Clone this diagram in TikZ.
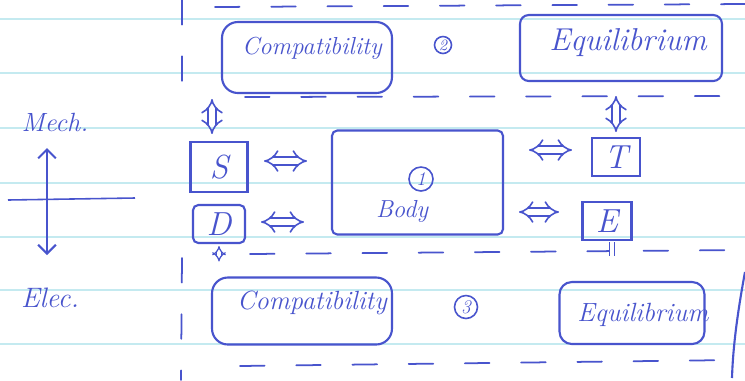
\documentclass[tikz,border=0pt]{standalone}
\usetikzlibrary{arrows.meta}
\definecolor{ink}{RGB}{72,84,205}
\definecolor{ruling}{RGB}{196,234,240}
\tikzset{
  pen/.style={draw=ink, line width=1.2pt},
  blockbox/.style={pen, rounded corners=9pt, inner sep=0pt},
  letterbox/.style={pen, inner sep=0pt, text=ink, font=\fontsize{19}{22}\selectfont\itshape},
  handtext/.style={text=ink, font=\fontsize{15}{18}\selectfont\itshape, inner sep=0pt},
  numbered/.style={circle, pen, line width=0.9pt, inner sep=0pt, text=ink, font=\fontsize{9}{10}\selectfont\itshape},
  dblarrow/.style={draw=ink, double=white, double distance=3.4pt, line width=0.9pt, arrows={Implies-Implies}},
  sketchdash/.style={draw=ink, line width=1pt, dash pattern=on 14pt off 18pt, line cap=round},
}
\begin{document}
\begin{tikzpicture}[x=0.02cm, y=-0.02cm]
\useasboundingbox (0,0) rectangle (745,380);
\fill[white] (0,0) rectangle (745,380);

% ruled notebook paper
\foreach \yy in {19,73,128,183,237,290,344}
  \draw[ruling, line width=0.6pt] (0,\yy) -- (745,\yy);

% hand-drawn dashed separators
\draw[sketchdash] (215,7) -- (745,4);
\draw[sketchdash] (245,97) -- (740,96);
\draw[sketchdash] (250,254) -- (745,250);
\draw[sketchdash] (240,366) -- (735,360);
\draw[sketchdash] (182,0) -- (182,90);
\draw[sketchdash] (182,258) -- (181,380);
\draw[pen] (745,272) .. controls (738,310) and (733,345) .. (732,378);

% mechanical row
\node[blockbox, minimum width=3.4cm, minimum height=1.42cm] (compM) at (307,57.5) {};
\node[handtext, font=\fontsize{14}{17}\selectfont\itshape] at (312,48) {Compatibility};
\node[numbered, minimum size=0.34cm] (c2) at (443,45) {2};
\node[blockbox, rounded corners=5pt, minimum width=4.04cm, minimum height=1.32cm] (eqM) at (621,48) {};
\node[handtext, font=\fontsize{18}{21}\selectfont\itshape] at (628,43) {Equilibrium};

% electrical row
\node[blockbox, minimum width=3.6cm, minimum height=1.34cm] (compE) at (302,311) {};
\node[handtext] at (312,303) {Compatibility};
\node[numbered, minimum size=0.46cm, font=\fontsize{11}{12}\selectfont\itshape] (c3) at (466,307) {3};
\node[blockbox, rounded corners=7pt, minimum width=2.9cm, minimum height=1.24cm] (eqE) at (632,313) {};
\node[handtext] at (643,315) {Equilibrium};

% body and its variables
\node[letterbox, minimum width=1.14cm, minimum height=1.0cm] (S) at (219,167) {S};
\node[letterbox, rounded corners=3pt, minimum width=1.04cm, minimum height=0.76cm] (D) at (219,224) {D};
\node[pen, rounded corners=3pt, minimum width=3.42cm, minimum height=2.08cm] (body) at (417.5,182.5) {};
\node[numbered, minimum size=0.48cm, font=\fontsize{11}{12}\selectfont\itshape] (c1) at (421,179) {1};
\node[handtext, font=\fontsize{14}{17}\selectfont\itshape] at (402,211) {Body};
\node[letterbox, minimum width=0.96cm, minimum height=0.76cm] (T) at (616,157) {T};
\node[letterbox, minimum width=0.98cm, minimum height=0.76cm] (E) at (607,221) {E};

% links between the variables and the body
\draw[dblarrow, shorten <=0.31cm, shorten >=0.48cm] ([yshift=0.12cm]S.east) -- ([yshift=0.12cm]S.east -| body.west);
\draw[dblarrow, shorten <=0.30cm, shorten >=0.54cm] ([yshift=0.04cm]D.east) -- ([yshift=0.04cm]D.east -| body.west);
\draw[dblarrow, shorten <=0.50cm, shorten >=0.38cm] ([yshift=0.14cm]T.west -| body.east) -- ([yshift=0.14cm]T.west);
\draw[dblarrow, shorten <=0.30cm, shorten >=0.45cm] ([yshift=0.18cm]E.west -| body.east) -- ([yshift=0.18cm]E.west);

% links to the field equations
\draw[dblarrow, shorten <=0.14cm, shorten >=0.10cm] ([xshift=-0.14cm]S.north) -- ([xshift=-0.14cm]S.north |- compM.south);
\draw[dblarrow, shorten <=0.10cm, shorten >=0.28cm] (T.north) -- (T.north |- eqM.south);
\draw[dblarrow, double distance=2pt, line width=0.7pt, shorten <=0.04cm, shorten >=0.30cm] (D.south) -- (D.south |- compE.north);
\draw[draw=ink, double=white, double distance=1.8pt, line width=0.7pt, shorten <=0.02cm, shorten >=0.50cm] ([xshift=0.1cm]E.south) -- ([xshift=0.1cm]E.south |- eqE.north);

% domain labels and axis
\node[handtext] (mech) at (55,122) {Mech.};
\node[handtext, font=\fontsize{16}{19}\selectfont\itshape] (elec) at (50,298) {Elec.};
\coordinate (mtop) at (47,148);
\coordinate (mbot) at (47,255);
\draw[pen, arrows={Straight Barb[length=5pt]-Straight Barb[length=5pt]}] (mtop) -- (mbot);
\draw[pen, line width=0.9pt] (8,200) -- (135,198);
\end{tikzpicture}
\end{document}
